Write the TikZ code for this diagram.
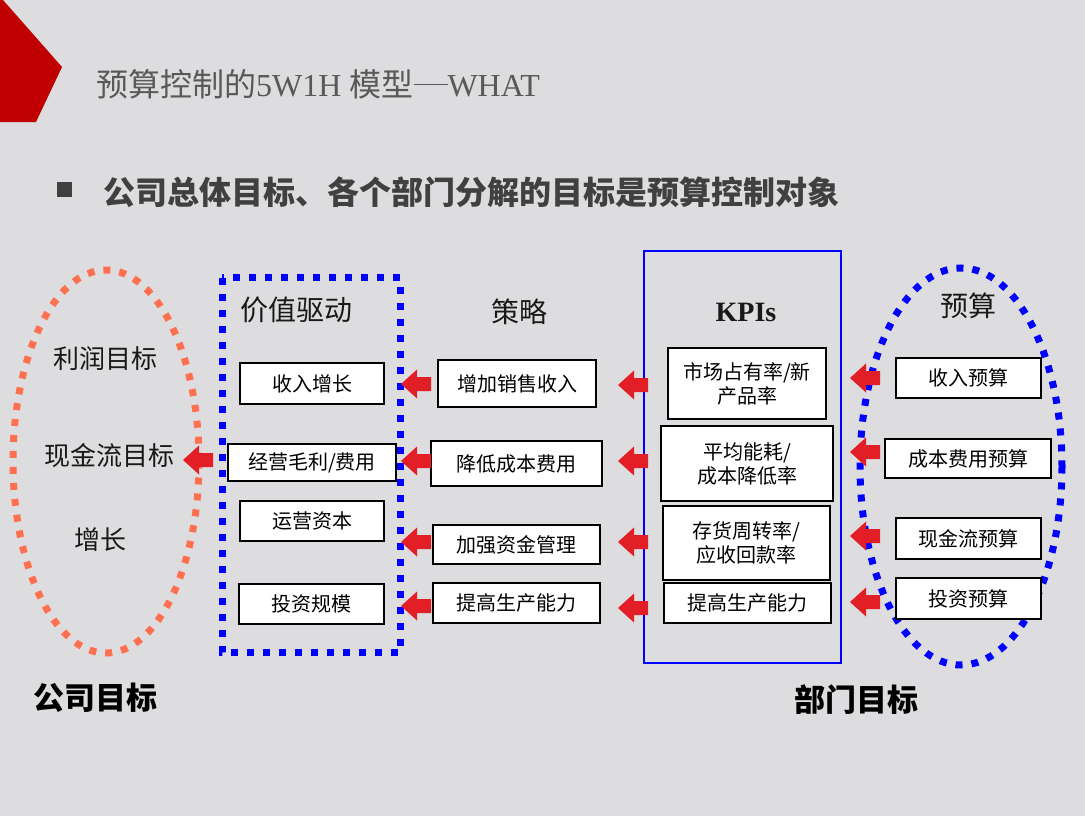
\documentclass[tikz,border=0pt]{standalone}
\usepackage{fontspec}
\setmainfont{Noto Sans CJK SC}
\newfontfamily\serifl{Liberation Serif}
\definecolor{bg}{RGB}{221,221,223}
\definecolor{titlegray}{RGB}{89,89,89}
\definecolor{subgray}{RGB}{64,64,64}
\definecolor{corner}{RGB}{192,0,0}
\definecolor{arrowred}{RGB}{226,30,38}
\definecolor{coral}{RGB}{255,112,80}
\definecolor{pblue}{RGB}{0,0,255}
\tikzset{
  box/.style={draw=black, line width=2.6pt, fill=white, inner sep=0pt, align=center,
    font=\fontsize{20}{24}\selectfont},
  head/.style={inner sep=0pt, font=\fontsize{28}{32}\selectfont, text=black!90},
  goal/.style={inner sep=0pt, font=\fontsize{26}{30}\selectfont, text=black!90},
  bottom/.style={inner sep=0pt, font=\fontsize{31}{34}\selectfont\bfseries, text=black},
  dotline/.style={line width=7pt, dash pattern=on 7pt off 9pt},
  larrow/.pic={\fill[arrowred] (0,0) -- (16,-14.5) -- (16,-7) -- (30,-7) -- (30,7) -- (16,7) -- (16,14.5) -- cycle;}
}
\begin{document}
\begin{tikzpicture}[x=1pt,y=-1pt]
\useasboundingbox (0,0) rectangle (1085,816);
\fill[bg] (0,0) rectangle (1085,816);
% corner
\fill[corner] (0,0) -- (3,0) -- (62,67) -- (36,122) -- (0,122) -- cycle;
% title
\node[anchor=west, inner sep=0pt, text=titlegray, font=\fontsize{32}{36}\selectfont] (title) at (96,84)
  {预算控制的{\serifl 5W1H }模型\rule[11pt]{34pt}{1.3pt}{\serifl WHAT}};
% subtitle
\node[fill=subgray, minimum width=15pt, minimum height=15pt, inner sep=0pt] (bullet) at (64.5,189.5) {};
\node[anchor=west, inner sep=0pt, text=subgray, font=\fontsize{32}{36}\selectfont\bfseries] (sub) at (103,192)
  {公司总体目标、各个部门分解的目标是预算控制对象};
% left ellipse
\draw[coral, dotline] (106,461.5) ellipse [x radius=93, y radius=191.5];
\node[goal] (g1) at (105,359) {利润目标};
\node[goal] (g2) at (110,456) {现金流目标};
\node[goal] (g3) at (100,540) {增长};
% value driver frame
\draw[pblue, dotline] (222,277.5) rectangle (400,652.5);
\node[head] (h1) at (296,310) {价值驱动};
\node[box, minimum width=144pt, minimum height=41pt] (v1) at (312,383.5) {收入增长};
\node[box, minimum width=168pt, minimum height=37pt] (v2) at (312,462.5) {经营毛利/费用};
\node[box, minimum width=144pt, minimum height=40pt] (v3) at (312,521) {运营资本};
\node[box, minimum width=145pt, minimum height=40pt] (v4) at (311.5,604) {投资规模};
% strategy
\node[head] (h2) at (519,312) {策略};
\node[box, minimum width=158pt, minimum height=47pt] (s1) at (517,383.5) {增加销售收入};
\node[box, minimum width=171pt, minimum height=45pt] (s2) at (516.5,463.5) {降低成本费用};
\node[box, minimum width=167pt, minimum height=39pt] (s3) at (516.5,544.5) {加强资金管理};
\node[box, minimum width=167pt, minimum height=40pt] (s4) at (516.5,603) {提高生产能力};
% KPIs
\draw[pblue, line width=2.2pt] (644,251) rectangle (841,663);
\node[head, font=\fontsize{28}{32}\selectfont\serifl\bfseries] (h3) at (746,312) {KPIs};
\node[box, minimum width=158pt, minimum height=71pt] (k1) at (747,383.5) {市场占有率/新\\产品率};
\node[box, minimum width=172pt, minimum height=75pt] (k2) at (747,463.5) {平均能耗/\\成本降低率};
\node[box, minimum width=167pt, minimum height=74pt] (k3) at (746.5,543) {存货周转率/\\应收回款率};
\node[box, minimum width=167pt, minimum height=40pt] (k4) at (747.5,603) {提高生产能力};
% budget
\draw[pblue, dotline] (961,466.5) ellipse [x radius=101, y radius=198.5];
\node[head] (h4) at (968,306) {预算};
\node[box, minimum width=145pt, minimum height=40pt] (b1) at (968.5,378) {收入预算};
\node[box, minimum width=166pt, minimum height=39pt] (b2) at (968,458.5) {成本费用预算};
\node[box, minimum width=145pt, minimum height=41pt] (b3) at (968.5,538.5) {现金流预算};
\node[box, minimum width=145pt, minimum height=41pt] (b4) at (968.5,598.5) {投资预算};
% arrows
\pic at (183,460) {larrow};
\foreach \y in {384,461,542,606} { \pic at (401,\y) {larrow}; }
\foreach \y in {385,461,542,608} { \pic at (618,\y) {larrow}; }
\foreach \y in {378,452,536,602} { \pic at (850,\y) {larrow}; }
% bottom labels
\node[bottom] (l1) at (96,698) {公司目标};
\node[bottom] (l2) at (856,700) {部门目标};
\end{tikzpicture}
\end{document}
